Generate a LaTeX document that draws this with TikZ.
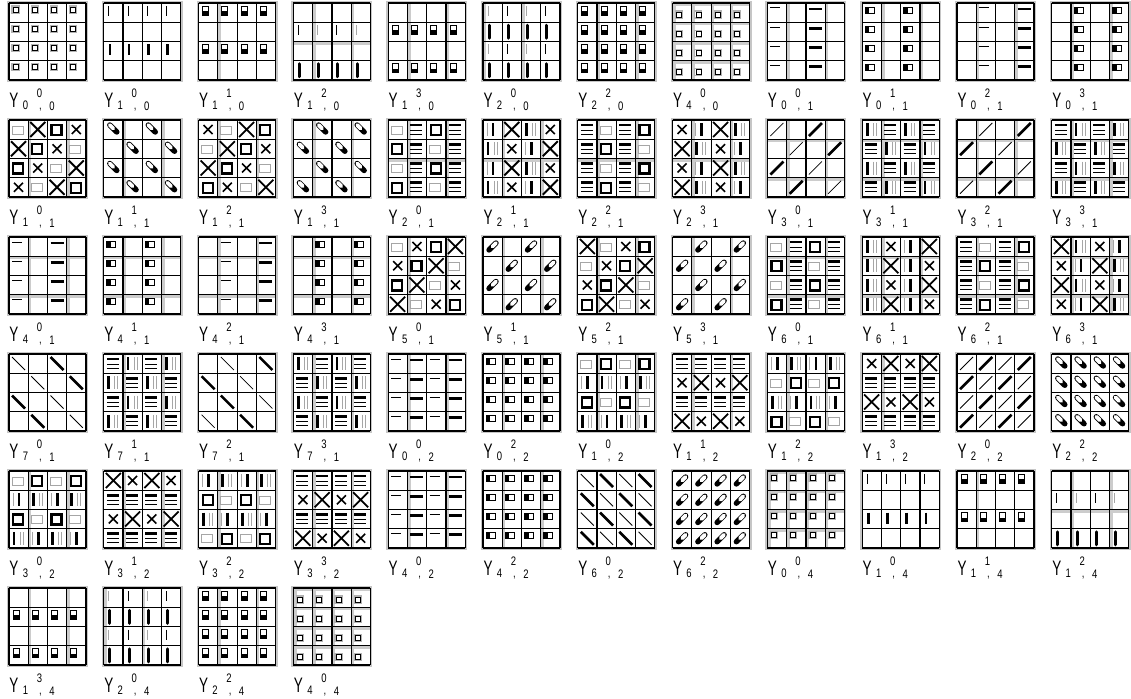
\documentclass[tikz,border=0pt]{standalone}
\usepackage{fontspec}
\setmainfont{Liberation Sans}
\usepackage{xstring}
\newcommand\defglyph[2]{\expandafter\def\csname gl#1\endcsname{#2}}
\defglyph{.}{}
\defglyph{s}{\draw[gray!60,line width=1.2pt] (3,3) rectangle (10,10); \draw[line width=0.7pt] (4,4) rectangle (9,9);}
\defglyph{b}{\draw[gray!60,line width=1.2pt] (3,8) rectangle (10,15); \draw[line width=0.7pt] (4,9) rectangle (9,14);}
\defglyph{q}{\draw[gray!70,line width=1pt] (3,6) rectangle (14,14);}
\defglyph{Q}{\draw[line width=2.2pt] (4,5) rectangle (14,15);}
\defglyph{x}{\draw[line width=1.6pt] (5,5)--(14,14) (5,14)--(14,5);}
\defglyph{X}{\draw[line width=1.8pt] (2,2)--(17,17) (2,17)--(17,2);}
\defglyph{|}{\draw[gray!70,line width=1pt] (5,3)--(5,13);}
\defglyph{i}{\draw[line width=1pt] (5,3)--(5,13);}
\defglyph{I}{\draw[line width=2.6pt] (6,3)--(6,14);}
\defglyph{J}{\draw[line width=3pt,line cap=round] (6,3)--(6,16);}
\defglyph{-}{\draw[line width=1pt] (3,5)--(13,5);}
\defglyph{H}{\draw[line width=2.6pt] (3,6)--(16,6);}
\defglyph{p}{\draw[line width=0.9pt] (4,3) rectangle (10,12); \fill (4,8) rectangle (10,12);}
\defglyph{o}{\draw[line width=0.9pt] (3,4) rectangle (12,10); \fill (3,4) rectangle (7,10);}
\defglyph{l}{\draw[line width=0.8pt] (3,16)--(16,3);}
\defglyph{L}{\draw[line width=2.6pt] (3,16)--(16,3);}
\defglyph{n}{\draw[line width=0.8pt] (3,3)--(16,16);}
\defglyph{N}{\draw[line width=2.6pt] (3,3)--(16,16);}
\defglyph{k}{\draw[line width=5.4pt,line cap=round] (6,5)--(13,12); \draw[white,line width=3.8pt,line cap=round] (6,5)--(9.5,8.5);}
\defglyph{K}{\draw[line width=5.4pt,line cap=round] (6,13)--(13,6); \draw[white,line width=3.8pt,line cap=round] (9.5,9.5)--(13,6);}
\defglyph{E}{\draw[line width=2.6pt] (3,5)--(15,5); \draw[line width=0.8pt] (3,10)--(15,10) (3,14)--(15,14);}
\defglyph{V}{\draw[gray!70,line width=0.9pt] (4,3)--(4,16); \draw[line width=2.8pt] (10,3)--(10,16);}
\defglyph{W}{\draw[line width=2.8pt] (5,3)--(5,16); \draw[gray!70,line width=0.9pt] (11,3)--(11,16) (14,3)--(14,16);}
\tikzset{
  lblY/.style={inner sep=0pt,font=\fontsize{13.5}{14}\selectfont,yscale=1.55},
  lbld/.style={inner sep=0pt,font=\fontsize{9.5}{10}\selectfont,yscale=1.3},
  gridline/.style={line width=1.2pt},
  grayline/.style={gray!40,line width=2.6pt},
  frame/.style={gray!45,line width=1.6pt}
}
% #1 col, #2 row, #3 cells, #4 n, #5 m, #6 k, #7 gray verticals, #8 gray horizontals
\newcommand\tile[8]{%
\begin{scope}[shift={({9+94.8*#1},{3+117*#2})}]
\foreach \v in {#7}{\ifnum\v<5 \draw[grayline] ({\v*19.25+1.8},0)--({\v*19.25+1.8},77);\fi}
\foreach \h in {#8}{\ifnum\h<5 \draw[grayline] (0,{\h*19.25+1.8})--(77,{\h*19.25+1.8});\fi}
\foreach \i in {0,...,15}{%
  \pgfmathtruncatemacro\cc{mod(\i,4)}%
  \pgfmathtruncatemacro\rr{div(\i,4)}%
  \pgfmathtruncatemacro\ii{\i+1}%
  \StrChar{#3}{\ii}[\ch]%
  \begin{scope}[shift={({\cc*19.25},{\rr*19.25})}]
  \csname gl\ch\endcsname
  \end{scope}
}
\draw[frame] (-1.2,-1.2) rectangle (78.2,78.2);
\foreach \g in {0,19.25,38.5,57.75,77}{\draw[gridline] (\g,0)--(\g,77); \draw[gridline] (0,\g)--(77,\g);}
\node[lblY] (ly#1x#2) at (5,97) {Y};
\node[lbld] (ln#1x#2) at (16.5,102.5) {#4};
\node[lbld] (lm#1x#2) at (30.5,90) {#5};
\node[lbld] (lc#1x#2) at (31.5,107) {,};
\node[lbld] (lk#1x#2) at (43,103) {#6};
\end{scope}}
\begin{document}
\begin{tikzpicture}[x=1pt,y=-1pt]
\fill[white] (0,0) rectangle (1131,698);
\useasboundingbox (0,0) rectangle (1131,698);
\tile{0}{0}{ssssssssssssssss}{0}{0}{0}{9}{9}
\tile{1}{0}{iiii....IIII....}{1}{0}{0}{9}{9}
\tile{2}{0}{pppp....pppp....}{1}{1}{0}{1}{9}
\tile{3}{0}{....i|i|....JJJJ}{1}{2}{0}{1,3}{2}
\tile{4}{0}{....pppp....pppp}{1}{3}{0}{1,3}{9}
\tile{5}{0}{|i|iJJJJ|i|iJJJJ}{2}{0}{0}{0,2}{9}
\tile{6}{0}{pppppppppppppppp}{2}{2}{0}{1,3}{9}
\tile{7}{0}{bbbbbbbbbbbbbbbb}{4}{0}{0}{0,1,2,3}{0,1,2,3}
\tile{8}{0}{-.H.-.H.-.H.-.H.}{0}{0}{1}{1,3}{9}
\tile{9}{0}{o.o.o.o.o.o.o.o.}{0}{1}{1}{1,3}{9}
\tile{10}{0}{.-.H.-.H.-.H.-.H}{0}{2}{1}{1,3}{9}
\tile{11}{0}{.o.o.o.o.o.o.o.o}{0}{3}{1}{1,3}{9}
\tile{0}{1}{qXQxXQxqQxqXxqXQ}{1}{0}{1}{1,3}{9}
\tile{1}{1}{k.k..k.kk.k..k.k}{1}{1}{1}{1,3}{9}
\tile{2}{1}{xqXQqXQxXQxqQxqX}{1}{2}{1}{1,3}{9}
\tile{3}{1}{.k.kk.k..k.kk.k.}{1}{3}{1}{1,3}{9}
\tile{4}{1}{qEQEQEqEqEQEQEqE}{2}{0}{1}{1,3}{2}
\tile{5}{1}{VXWxWxVXVXWxWxVX}{2}{1}{1}{1,3}{2}
\tile{6}{1}{EqEQEQEqEqEQEQEq}{2}{2}{1}{1,3}{2}
\tile{7}{1}{xVXWXWxVxVXWXWxV}{2}{3}{1}{1,3}{2}
\tile{8}{1}{l.L..l.LL.l..L.l}{3}{0}{1}{1,3}{1,3}
\tile{9}{1}{WEWEEWEWWEWEEWEW}{3}{1}{1}{1,3}{1,3}
\tile{10}{1}{.l.LL.l..L.ll.L.}{3}{2}{1}{1,3}{1,3}
\tile{11}{1}{EWEWWEWEEWEWWEWE}{3}{3}{1}{1,3}{1,3}
\tile{0}{2}{-.H.-.H.-.H.-.H.}{4}{0}{1}{1,3}{1,3}
\tile{1}{2}{o.o.o.o.o.o.o.o.}{4}{1}{1}{1,3}{1,3}
\tile{2}{2}{.-.H.-.H.-.H.-.H}{4}{2}{1}{1,3}{1,3}
\tile{3}{2}{.o.o.o.o.o.o.o.o}{4}{3}{1}{1,3}{1,3}
\tile{4}{2}{qxQXxQXqQXqxXqxQ}{5}{0}{1}{1,3}{9}
\tile{5}{2}{K.K..K.KK.K..K.K}{5}{1}{1}{1,3}{9}
\tile{6}{2}{XqxQqxQXxQXqQXqx}{5}{2}{1}{1,3}{9}
\tile{7}{2}{.K.KK.K..K.KK.K.}{5}{3}{1}{1,3}{9}
\tile{8}{2}{qEQEQEqEqEQEQEqE}{6}{0}{1}{1,3}{1,3}
\tile{9}{2}{WxVXWXVxWxVXWXVx}{6}{1}{1}{1,3}{1,3}
\tile{10}{2}{EqEQEQEqEqEQEQEq}{6}{2}{1}{1,3}{1,3}
\tile{11}{2}{XWxVxVXWXWxVxVXW}{6}{3}{1}{1,3}{1,3}
\tile{0}{3}{n.N..n.NN.n..N.n}{7}{0}{1}{9}{9}
\tile{1}{3}{EWEWWEWEEWEWWEWE}{7}{1}{1}{1,3}{9}
\tile{2}{3}{.n.NN.n..N.nn.N.}{7}{2}{1}{9}{9}
\tile{3}{3}{WEWEEWEWWEWEEWEW}{7}{3}{1}{1,3}{9}
\tile{4}{3}{-H-H-H-H-H-H-H-H}{0}{0}{2}{1,3}{9}
\tile{5}{3}{oooooooooooooooo}{0}{2}{2}{1,3}{9}
\tile{6}{3}{qQqQVWVWQqQqWVWV}{1}{0}{2}{1,3}{9}
\tile{7}{3}{EEEExXxXEEEEXxXx}{1}{1}{2}{1,3}{9}
\tile{8}{3}{VWVWqQqQWVWVQqQq}{1}{2}{2}{1,3}{9}
\tile{9}{3}{xXxXEEEEXxXxEEEE}{1}{3}{2}{1,3}{9}
\tile{10}{3}{lLlLLlLllLlLLlLl}{2}{0}{2}{9}{9}
\tile{11}{3}{kkkkkkkkkkkkkkkk}{2}{2}{2}{9}{9}
\tile{0}{4}{qQqQVWVWQqQqWVWV}{3}{0}{2}{1,3}{9}
\tile{1}{4}{XxXxEEEExXxXEEEE}{3}{1}{2}{1,3}{9}
\tile{2}{4}{VWVWQqQqWVWVqQqQ}{3}{2}{2}{1,3}{9}
\tile{3}{4}{EEEExXxXEEEEXxXx}{3}{3}{2}{1,3}{9}
\tile{4}{4}{-H-H-H-H-H-H-H-H}{4}{0}{2}{1,3}{9}
\tile{5}{4}{oooooooooooooooo}{4}{2}{2}{1,3}{9}
\tile{6}{4}{nNnNNnNnnNnNNnNn}{6}{0}{2}{9}{9}
\tile{7}{4}{KKKKKKKKKKKKKKKK}{6}{2}{2}{9}{9}
\tile{8}{4}{ssssssssssssssss}{0}{0}{4}{0,1,2,3}{0,1,2,3}
\tile{9}{4}{iiii....IIII....}{1}{0}{4}{9}{9}
\tile{10}{4}{pppp....pppp....}{1}{1}{4}{1}{9}
\tile{11}{4}{....i|i|....JJJJ}{1}{2}{4}{1,3}{2}
\tile{0}{5}{....pppp....pppp}{1}{3}{4}{1,3}{9}
\tile{1}{5}{|i|iJJJJ|i|iJJJJ}{2}{0}{4}{0,2}{9}
\tile{2}{5}{pppppppppppppppp}{2}{2}{4}{1,3}{9}
\tile{3}{5}{bbbbbbbbbbbbbbbb}{4}{0}{4}{0,1,2,3}{0,1,2,3}
\end{tikzpicture}
\end{document}
